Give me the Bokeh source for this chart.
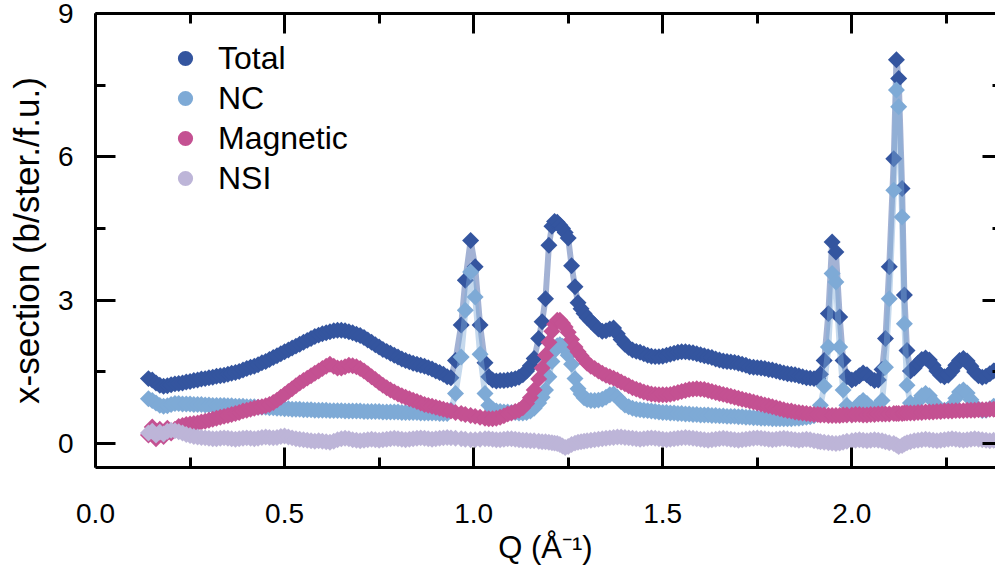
import numpy as np
from bokeh.plotting import figure
from bokeh.models import (LinearAxis, FixedTicker, PrintfTickFormatter, Legend,
                          LegendItem, ColumnDataSource, Range1d, CustomJSTickFormatter)
from bokeh.embed import file_html
from bokeh.resources import INLINE

# ---------------- data ----------------
Q = [
    0.14, 0.15, 0.16, 0.17, 0.18, 0.19, 0.20, 0.21, 0.22, 0.23,
    0.24, 0.25, 0.26, 0.27, 0.28, 0.29, 0.30, 0.31, 0.32, 0.33,
    0.34, 0.35, 0.36, 0.37, 0.38, 0.39, 0.40, 0.41, 0.42, 0.43,
    0.44, 0.45, 0.46, 0.47, 0.48, 0.49, 0.50, 0.51, 0.52, 0.53,
    0.54, 0.55, 0.56, 0.57, 0.58, 0.59, 0.60, 0.61, 0.62, 0.63,
    0.64, 0.65, 0.66, 0.67, 0.68, 0.69, 0.70, 0.71, 0.72, 0.73,
    0.74, 0.75, 0.76, 0.77, 0.78, 0.79, 0.80, 0.81, 0.82, 0.83,
    0.84, 0.85, 0.86, 0.87, 0.88, 0.89, 0.90, 0.91, 0.92, 0.93,
    0.94, 0.952, 0.967, 0.978, 0.992, 1.004, 1.017, 1.030, 1.040,
    1.05, 1.06, 1.07, 1.08, 1.09, 1.10, 1.11, 1.12, 1.13, 1.14, 1.15, 1.16,
    1.172, 1.181, 1.190, 1.199, 1.207, 1.214, 1.221, 1.228, 1.235, 1.242, 1.250, 1.259, 1.268, 1.276, 1.284, 1.292,
    1.30, 1.31, 1.32, 1.33, 1.34, 1.35, 1.36, 1.37, 1.38, 1.39,
    1.40, 1.41, 1.42, 1.43, 1.44, 1.45, 1.46, 1.47, 1.48, 1.49,
    1.50, 1.51, 1.52, 1.53, 1.54, 1.55, 1.56, 1.57, 1.58, 1.59,
    1.60, 1.61, 1.62, 1.63, 1.64, 1.65, 1.66, 1.67, 1.68, 1.69,
    1.70, 1.71, 1.72, 1.73, 1.74, 1.75, 1.76, 1.77, 1.78, 1.79,
    1.80, 1.81, 1.82, 1.83, 1.84, 1.85, 1.86, 1.87, 1.88, 1.89,
    1.90, 1.91, 1.917, 1.927, 1.938, 1.948, 1.958, 1.968, 1.977, 1.987,
    2.00, 2.01, 2.02, 2.03, 2.04, 2.05, 2.06, 2.07,
    2.080, 2.089, 2.099, 2.111, 2.118, 2.124, 2.133, 2.139, 2.146, 2.155,
    2.165, 2.175, 2.185, 2.195, 2.205, 2.215, 2.225, 2.235, 2.245, 2.255, 2.265, 2.275,
    2.285, 2.295, 2.305, 2.315, 2.325, 2.335, 2.345, 2.355, 2.365, 2.375, 2.385, 2.395,
]

TOTAL = [
    1.36, 1.33, 1.27, 1.22, 1.20, 1.21, 1.23, 1.25, 1.26, 1.27,
    1.29, 1.30, 1.32, 1.33, 1.35, 1.36, 1.38, 1.39, 1.41, 1.42,
    1.43, 1.45, 1.47, 1.49, 1.51, 1.54, 1.57, 1.60, 1.62, 1.65,
    1.69, 1.72, 1.76, 1.80, 1.84, 1.88, 1.92, 1.96, 2.00, 2.04,
    2.08, 2.12, 2.16, 2.20, 2.24, 2.27, 2.30, 2.32, 2.34, 2.36,
    2.37, 2.37, 2.36, 2.34, 2.32, 2.29, 2.26, 2.22, 2.17, 2.12,
    2.07, 2.02, 1.97, 1.93, 1.89, 1.85, 1.81, 1.77, 1.74, 1.71,
    1.68, 1.66, 1.64, 1.62, 1.59, 1.56, 1.52, 1.49, 1.45, 1.40,
    1.38, 1.74, 2.48, 3.42, 4.25, 3.70, 2.48, 1.69, 1.40,
    1.33, 1.31, 1.32, 1.32, 1.33, 1.34, 1.36, 1.39, 1.44, 1.52, 1.63, 1.78,
    2.20, 2.55, 3.03, 4.15, 4.55, 4.65, 4.63, 4.57, 4.50, 4.42, 4.30, 3.72, 3.28, 2.95, 2.82, 2.72,
    2.64, 2.56, 2.48, 2.40, 2.35, 2.36, 2.40, 2.42, 2.30, 2.18,
    2.08, 2.01, 1.96, 1.93, 1.91, 1.88, 1.85, 1.83, 1.82, 1.82,
    1.83, 1.85, 1.87, 1.89, 1.91, 1.92, 1.92, 1.91, 1.90, 1.88,
    1.86, 1.84, 1.82, 1.80, 1.77, 1.75, 1.73, 1.72, 1.71, 1.70,
    1.68, 1.66, 1.64, 1.61, 1.60, 1.59, 1.58, 1.57, 1.55, 1.54,
    1.52, 1.50, 1.48, 1.46, 1.45, 1.44, 1.42, 1.40, 1.38, 1.37,
    1.36, 1.36, 1.45, 1.74, 2.72, 4.22, 4.01, 2.65, 1.74, 1.40,
    1.33, 1.36, 1.42, 1.48, 1.44, 1.37, 1.32, 1.33,
    1.55, 2.20, 3.70, 5.96, 8.03, 7.64, 5.34, 3.11, 1.95, 1.52,
    1.58, 1.68, 1.76, 1.79, 1.75, 1.64, 1.52, 1.43, 1.40, 1.43, 1.52, 1.64,
    1.74, 1.78, 1.73, 1.62, 1.50, 1.42, 1.39, 1.41, 1.46, 1.52, 1.57, 1.60,
]

NC = [
    0.94, 0.90, 0.85, 0.80, 0.78, 0.79, 0.82, 0.84, 0.84, 0.83,
    0.83, 0.83, 0.82, 0.82, 0.82, 0.81, 0.81, 0.80, 0.80, 0.80,
    0.80, 0.79, 0.79, 0.78, 0.78, 0.78, 0.77, 0.77, 0.77, 0.76,
    0.76, 0.76, 0.75, 0.75, 0.74, 0.74, 0.73, 0.73, 0.72, 0.72,
    0.72, 0.71, 0.71, 0.71, 0.70, 0.70, 0.70, 0.70, 0.69, 0.69,
    0.69, 0.69, 0.68, 0.68, 0.68, 0.68, 0.68, 0.67, 0.67, 0.67,
    0.67, 0.67, 0.66, 0.66, 0.66, 0.66, 0.66, 0.65, 0.65, 0.65,
    0.65, 0.65, 0.64, 0.64, 0.64, 0.64, 0.64, 0.63, 0.63, 0.63,
    0.70, 1.05, 1.81, 2.79, 3.59, 3.07, 1.87, 1.05, 0.80,
    0.72, 0.68, 0.67, 0.66, 0.66, 0.65, 0.65, 0.64, 0.64, 0.65, 0.68, 0.74,
    0.85, 0.97, 1.12, 1.40, 1.72, 1.95, 2.05, 2.07, 2.04, 1.97, 1.85, 1.66, 1.36, 1.15, 1.04, 0.96,
    0.92, 0.90, 0.90, 0.91, 0.93, 0.97, 1.02, 1.04, 0.97, 0.88,
    0.81, 0.77, 0.74, 0.72, 0.71, 0.70, 0.69, 0.68, 0.67, 0.66,
    0.65, 0.65, 0.64, 0.64, 0.63, 0.63, 0.62, 0.62, 0.61, 0.61,
    0.60, 0.60, 0.60, 0.59, 0.59, 0.58, 0.58, 0.57, 0.57, 0.57,
    0.56, 0.56, 0.55, 0.55, 0.54, 0.54, 0.53, 0.53, 0.53, 0.52,
    0.52, 0.52, 0.52, 0.52, 0.52, 0.53, 0.53, 0.54, 0.55, 0.56,
    0.58, 0.64, 0.80, 1.20, 2.02, 3.56, 3.38, 2.02, 1.12, 0.80,
    0.70, 0.74, 0.84, 0.90, 0.84, 0.76, 0.72, 0.74,
    0.90, 1.60, 3.03, 5.30, 7.40, 7.05, 4.74, 2.51, 1.22, 0.85,
    0.80, 0.88, 1.00, 1.05, 1.00, 0.88, 0.78, 0.72, 0.70, 0.72, 0.80, 0.95,
    1.08, 1.12, 1.06, 0.92, 0.80, 0.72, 0.69, 0.70, 0.73, 0.78, 0.82, 0.85,
]

MAGNETIC = [
    0.18, 0.35, 0.10, 0.30, 0.15, 0.32, 0.22, 0.30, 0.36, 0.38,
    0.40, 0.41, 0.42, 0.43, 0.45, 0.47, 0.49, 0.51, 0.53, 0.55,
    0.57, 0.59, 0.61, 0.63, 0.65, 0.68, 0.70, 0.72, 0.74, 0.76,
    0.77, 0.79, 0.82, 0.86, 0.91, 0.97, 1.03, 1.09, 1.15, 1.21,
    1.27, 1.32, 1.37, 1.42, 1.47, 1.52, 1.57, 1.62, 1.66, 1.62,
    1.58, 1.58, 1.61, 1.64, 1.63, 1.61, 1.57, 1.52, 1.46, 1.40,
    1.34, 1.28, 1.22, 1.17, 1.12, 1.08, 1.04, 1.00, 0.97, 0.94,
    0.91, 0.88, 0.85, 0.82, 0.80, 0.78, 0.76, 0.74, 0.72, 0.70,
    0.68, 0.65, 0.63, 0.61, 0.59, 0.57, 0.55, 0.53, 0.52,
    0.52, 0.53, 0.55, 0.58, 0.62, 0.64, 0.67, 0.70, 0.75, 0.84, 0.96, 1.12,
    1.35, 1.58, 1.85, 2.12, 2.35, 2.50, 2.58, 2.58, 2.52, 2.44, 2.33, 2.18, 2.02, 1.92, 1.84, 1.76,
    1.68, 1.62, 1.57, 1.52, 1.47, 1.43, 1.40, 1.37, 1.33, 1.29,
    1.25, 1.21, 1.17, 1.14, 1.11, 1.08, 1.06, 1.04, 1.03, 1.02,
    1.02, 1.02, 1.03, 1.05, 1.07, 1.09, 1.11, 1.13, 1.14, 1.15,
    1.14, 1.13, 1.11, 1.09, 1.07, 1.05, 1.03, 1.01, 0.99, 0.97,
    0.95, 0.93, 0.91, 0.89, 0.87, 0.85, 0.83, 0.81, 0.79, 0.77,
    0.75, 0.73, 0.71, 0.69, 0.68, 0.66, 0.65, 0.64, 0.63, 0.62,
    0.61, 0.61, 0.60, 0.60, 0.59, 0.59, 0.59, 0.59, 0.60, 0.60,
    0.60, 0.61, 0.61, 0.60, 0.60, 0.61, 0.61, 0.62,
    0.62, 0.62, 0.62, 0.63, 0.63, 0.63, 0.63, 0.64, 0.64, 0.64,
    0.64, 0.65, 0.65, 0.66, 0.66, 0.66, 0.67, 0.67, 0.68, 0.68, 0.68, 0.69,
    0.69, 0.69, 0.70, 0.70, 0.70, 0.71, 0.71, 0.71, 0.72, 0.72, 0.72, 0.73,
]

NSI = [
    0.22, 0.26, 0.18, 0.24, 0.20, 0.26, 0.28, 0.27, 0.25, 0.22,
    0.19, 0.17, 0.15, 0.14, 0.13, 0.12, 0.11, 0.10, 0.10, 0.11,
    0.12, 0.11, 0.10, 0.09, 0.10, 0.11, 0.12, 0.11, 0.10, 0.11,
    0.13, 0.14, 0.13, 0.12, 0.13, 0.15, 0.16, 0.14, 0.12, 0.10,
    0.09, 0.08, 0.07, 0.06, 0.05, 0.06, 0.05, 0.04, 0.03, 0.05,
    0.08, 0.10, 0.11, 0.10, 0.08, 0.07, 0.06, 0.07, 0.08, 0.09,
    0.08, 0.07, 0.08, 0.09, 0.10, 0.11, 0.10, 0.09, 0.08, 0.09,
    0.10, 0.11, 0.12, 0.11, 0.10, 0.09, 0.10, 0.11, 0.12, 0.13,
    0.12, 0.11, 0.10, 0.09, 0.08, 0.08, 0.09, 0.10, 0.10,
    0.09, 0.08, 0.08, 0.09, 0.10, 0.10, 0.09, 0.08, 0.07, 0.07, 0.06, 0.06,
    0.05, 0.04, 0.04, 0.03, 0.02, 0.01, 0.00, -0.02, -0.05, -0.08, -0.06, -0.02, 0.01, 0.03, 0.04, 0.05,
    0.06, 0.07, 0.08, 0.09, 0.10, 0.11, 0.12, 0.13, 0.14, 0.14,
    0.13, 0.12, 0.11, 0.10, 0.09, 0.10, 0.11, 0.12, 0.11, 0.10,
    0.09, 0.08, 0.09, 0.10, 0.11, 0.12, 0.13, 0.12, 0.11, 0.10,
    0.09, 0.08, 0.07, 0.08, 0.09, 0.10, 0.11, 0.10, 0.09, 0.08,
    0.07, 0.08, 0.09, 0.10, 0.11, 0.12, 0.11, 0.10, 0.09, 0.08,
    0.09, 0.10, 0.11, 0.10, 0.09, 0.08, 0.07, 0.08, 0.09, 0.08,
    0.06, 0.05, 0.04, 0.03, 0.02, 0.01, 0.00, 0.01, 0.03, 0.05,
    0.06, 0.07, 0.08, 0.07, 0.06, 0.07, 0.08, 0.07,
    0.06, 0.04, 0.02, 0.00, -0.03, -0.06, -0.04, -0.01, 0.02, 0.04,
    0.06, 0.07, 0.08, 0.09, 0.08, 0.07, 0.06, 0.07, 0.08, 0.09, 0.10, 0.09,
    0.08, 0.07, 0.08, 0.09, 0.10, 0.09, 0.08, 0.07, 0.06, 0.07, 0.08, 0.09,
]

SERIES_NAMES = ["Total", "NC", "Magnetic", "NSI"]
SERIES_COLORS = ["#34559f", "#7eaad6", "#c45192", "#bdb5d8"]

X_TICKS = [0.0, 0.5, 1.0, 1.5, 2.0]
X_MINOR = [0.25, 0.75, 1.25, 1.75, 2.25]
Y_TICKS = [0, 3, 6, 9]
Y_MINOR = [1.5, 4.5, 7.5]

X_LABEL = "Q (Å⁻¹)"
Y_LABEL = "x-section (b/ster./f.u.)"

# ---------------- figure ----------------
FONT = "Liberation Sans"

p = figure(width=995, height=576, x_range=Range1d(0, 2.38), y_range=Range1d(-0.5, 9),
           output_backend="svg", toolbar_location=None,
           x_axis_location=None, y_axis_location=None,
           min_border_left=95, min_border_right=0, min_border_top=13, min_border_bottom=109)
p.outline_line_color = None
p.grid.visible = False
p.background_fill_color = "white"
p.border_fill_color = "white"


def style_axis(ax, major_in=20, minor_in=10):
    ax.axis_line_width = 3
    ax.axis_line_color = "black"
    ax.major_tick_line_width = 3
    ax.minor_tick_line_width = 3
    ax.major_tick_line_color = "black"
    ax.minor_tick_line_color = "black"
    ax.major_tick_in = major_in
    ax.major_tick_out = 0
    ax.minor_tick_in = minor_in
    ax.minor_tick_out = 0
    ax.major_label_text_font = FONT
    ax.major_label_text_font_size = "28px"
    ax.major_label_text_color = "black"


bottom = LinearAxis(ticker=FixedTicker(ticks=X_TICKS, minor_ticks=X_MINOR),
                    formatter=PrintfTickFormatter(format="%.1f"),
                    axis_label=X_LABEL)
style_axis(bottom)
bottom.major_label_standoff = 36
bottom.axis_label_text_font = FONT
bottom.axis_label_text_font_size = "31px"
bottom.axis_label_text_font_style = "normal"
bottom.axis_label_text_color = "black"
bottom.axis_label_standoff = 4
p.add_layout(bottom, "below")

left = LinearAxis(ticker=FixedTicker(ticks=Y_TICKS, minor_ticks=Y_MINOR),
                  formatter=PrintfTickFormatter(format="%d"),
                  axis_label=Y_LABEL)
style_axis(left)
left.major_label_standoff = 22
left.axis_label_text_font = FONT
left.axis_label_text_font_size = "35px"
left.axis_label_text_font_style = "normal"
left.axis_label_text_color = "black"
left.axis_label_standoff = 9
p.add_layout(left, "left")

empty_fmt = CustomJSTickFormatter(code="return ''")

top = LinearAxis(ticker=FixedTicker(ticks=X_TICKS, minor_ticks=X_MINOR), formatter=empty_fmt)
style_axis(top)
top.major_label_standoff = 0
p.add_layout(top, "above")

right = LinearAxis(ticker=FixedTicker(ticks=Y_TICKS, minor_ticks=Y_MINOR), formatter=empty_fmt)
style_axis(right, major_in=13, minor_in=3)
right.axis_line_color = None
right.major_label_standoff = 0
p.add_layout(right, "right")

# ---------------- data glyphs ----------------
items = []
for name, ys, col in zip(SERIES_NAMES, [TOTAL, NC, MAGNETIC, NSI], SERIES_COLORS):
    src = ColumnDataSource(dict(q=Q, y=ys))
    p.line("q", "y", source=src, line_color=col, line_alpha=0.45, line_width=6)
    p.scatter("q", "y", source=src, marker="square", angle=np.pi / 4, size=12,
              fill_color=col, line_color=None)
    # legend proxy (no visible data point)
    leg = p.scatter(x=[np.nan], y=[np.nan], marker="circle", size=15,
                    fill_color=col, line_color=None)
    items.append(LegendItem(label=name, renderers=[leg]))

legend = Legend(items=items, location=(71, 270), padding=0, margin=0, spacing=2,
                glyph_width=38, glyph_height=38, label_height=38, label_standoff=14,
                label_text_font=FONT, label_text_font_size="32px",
                label_text_color="black", border_line_color=None,
                background_fill_alpha=0)
p.add_layout(legend)

open("out.html", "w").write(file_html(p, INLINE))
